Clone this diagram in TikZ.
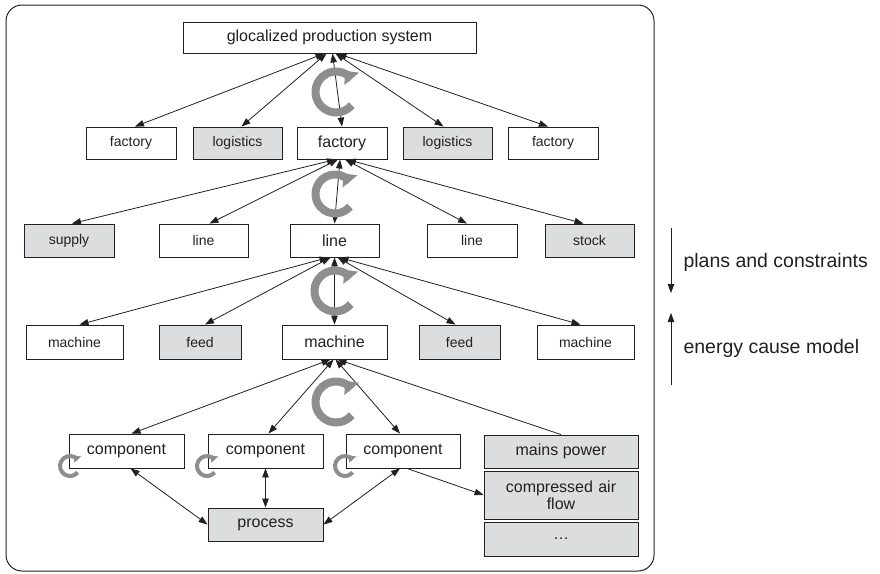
\documentclass[tikz,border=0pt]{standalone}
\usepackage{fontspec}
\setmainfont{Liberation Sans}
\usetikzlibrary{arrows.meta}
\definecolor{boxfill}{HTML}{DCDDDE}
\definecolor{spincol}{HTML}{8E8E8E}
\definecolor{ink}{HTML}{231F20}

\begin{document}
\begin{tikzpicture}[x=1pt,y=-1pt,
  box/.style={draw=ink, line width=0.9pt, inner sep=0pt, align=center,
    text=ink, font=\fontsize{14}{16}\selectfont},
  grey/.style={box, fill=boxfill},
  big/.style={font=\fontsize{16}{19}\selectfont},
  link/.style={draw=ink, line width=0.8pt,
    {Triangle[length=9pt,width=6.5pt]}-{Triangle[length=9pt,width=6.5pt]}},
  uplink/.style={draw=ink, line width=0.8pt, -{Triangle[length=9pt,width=6.5pt]}},
  note/.style={text=ink, font=\fontsize{19.5}{23}\selectfont, anchor=west},
  % circular arrow: radius / stroke width
  pics/spin/.style args={#1/#2}{code={
    \begin{scope}[yscale=-1]
      \draw[spincol, line width=#2pt]
        (40:#1) arc[start angle=40, end angle=320, radius=#1];
      \fill[spincol, rotate=320]
        (#1-1.2*#2, 0) -- (#1+1.2*#2, 0) -- (#1, 1.3*#2) -- cycle;
    \end{scope}}}
]
\useasboundingbox (0,0) rectangle (880,573);

% outer frame
\draw[ink, line width=1pt, rounded corners=16pt] (6,5) rectangle (654,571);

% level 1
\node[box, big, minimum width=293pt, minimum height=31pt] (top) at (329.5,37.5) {glocalized production system};

% level 2
\node[box, minimum width=90pt, minimum height=32pt] (f1) at (131,143) {factory};
\node[grey, minimum width=89pt, minimum height=32pt] (l1) at (237.5,143) {logistics};
\node[box, big, minimum width=90pt, minimum height=32pt] (fc) at (342,143) {factory};
\node[grey, minimum width=89pt, minimum height=32pt] (l2) at (447.5,143) {logistics};
\node[box, minimum width=90pt, minimum height=32pt] (f2) at (553,143) {factory};

% level 3
\node[grey, minimum width=90pt, minimum height=33pt] (sup) at (69,240.5) {supply};
\node[box, minimum width=89pt, minimum height=33pt] (ln1) at (203.5,240.5) {line};
\node[box, big, minimum width=89pt, minimum height=33pt] (lc) at (334.5,240.5) {line};
\node[box, minimum width=90pt, minimum height=33pt] (ln2) at (472,240.5) {line};
\node[grey, minimum width=89pt, minimum height=33pt] (stk) at (589.5,240.5) {stock};

% level 4
\node[box, minimum width=97pt, minimum height=34pt] (m1) at (74.5,342) {machine};
\node[grey, minimum width=82pt, minimum height=34pt] (fd1) at (200,342) {feed};
\node[box, big, minimum width=105pt, minimum height=34pt] (mc) at (334.5,342) {machine};
\node[grey, minimum width=81pt, minimum height=34pt] (fd2) at (459.5,342) {feed};
\node[box, minimum width=97pt, minimum height=34pt] (m2) at (585.5,342) {machine};

% level 5
\node[box, big, minimum width=115pt, minimum height=34pt] (c1) at (126.5,451) {component};
\node[box, big, minimum width=115pt, minimum height=34pt] (c2) at (265.5,451) {component};
\node[box, big, minimum width=114pt, minimum height=34pt] (c3) at (403,451) {component};
\node[grey, big, minimum width=115pt, minimum height=33pt] (proc) at (265.5,524.5) {process};
\node[grey, big, minimum width=154pt, minimum height=33pt] (mains) at (561,451.5) {mains power};
\node[grey, big, minimum width=154pt, minimum height=48pt, text width=150pt] (air) at (561,495) {compressed air\\[-2pt]flow};
\node[grey, big, minimum width=154pt, minimum height=34pt] (dots) at (561,539) {\dots};

% links level 1 - level 2
\draw[link] ([xshift=-5pt]top.south) -- ([xshift=4pt]f1.north);
\draw[link] ([xshift=-3pt]top.south) -- ([xshift=4pt]l1.north);
\draw[link] ([xshift=3pt]top.south) -- (fc.north);
\draw[link] ([xshift=6pt]top.south) -- ([xshift=-4pt]l2.north);
\draw[link] ([xshift=8pt]top.south) -- ([xshift=-5pt]f2.north);

% links level 2 - level 3
\draw[link] ([xshift=-6pt]fc.south) -- ([xshift=3pt]sup.north);
\draw[link] ([xshift=-4pt]fc.south) -- ([xshift=6pt]ln1.north);
\draw[link] ([xshift=-2pt]fc.south) -- (lc.north);
\draw[link] ([xshift=3pt]fc.south) -- ([xshift=-5pt]ln2.north);
\draw[link] ([xshift=5pt]fc.south) -- ([xshift=-6pt]stk.north);

% links level 3 - level 4
\draw[link] ([xshift=-6pt]lc.south) -- ([xshift=5pt]m1.north);
\draw[link] ([xshift=-4pt]lc.south) -- ([xshift=5pt]fd1.north);
\draw[link] ([xshift=0pt]lc.south) -- (mc.north);
\draw[link] ([xshift=3pt]lc.south) -- ([xshift=-4pt]fd2.north);
\draw[link] ([xshift=5pt]lc.south) -- ([xshift=-5pt]m2.north);

% links level 4 - level 5
\draw[link] ([xshift=-4pt]mc.south) -- ([xshift=5pt]c1.north);
\draw[link] ([xshift=-1pt]mc.south) -- ([xshift=3pt]c2.north);
\draw[link] ([xshift=1pt]mc.south) -- ([xshift=-3pt]c3.north);
\draw[uplink] (mains.north) -- ([xshift=3pt]mc.south);

% links to process and compressed air
\draw[link] ([xshift=4pt]c1.south) -- (proc.west);
\draw[link] (c2.south) -- (proc.north);
\draw[link] ([xshift=-3pt]c3.south) -- (proc.east);
\draw[uplink] ([xshift=4pt]c3.south) -- (air.west);

% rotation symbols
\pic at (336,92) {spin=20.5/8};
\pic at (335,194) {spin=19.5/8};
\pic at (335,291) {spin=20.5/8};
\pic at (336,402) {spin=20.5/8};
\pic at (70,466) {spin=10/4};
\pic at (207,466) {spin=10/4};
\pic at (345,466) {spin=10/4};

% direction legend
\coordinate (dtop) at (671,228);
\coordinate (dbot) at (671,293);
\coordinate (ubot) at (671,385);
\coordinate (utop) at (671,313);
\draw[uplink] (dtop) -- (dbot);
\draw[uplink] (ubot) -- (utop);
\node[note] (plans) at (680,262) {plans and constraints};
\node[note] (cause) at (680,348) {energy cause model};
\end{tikzpicture}
\end{document}
